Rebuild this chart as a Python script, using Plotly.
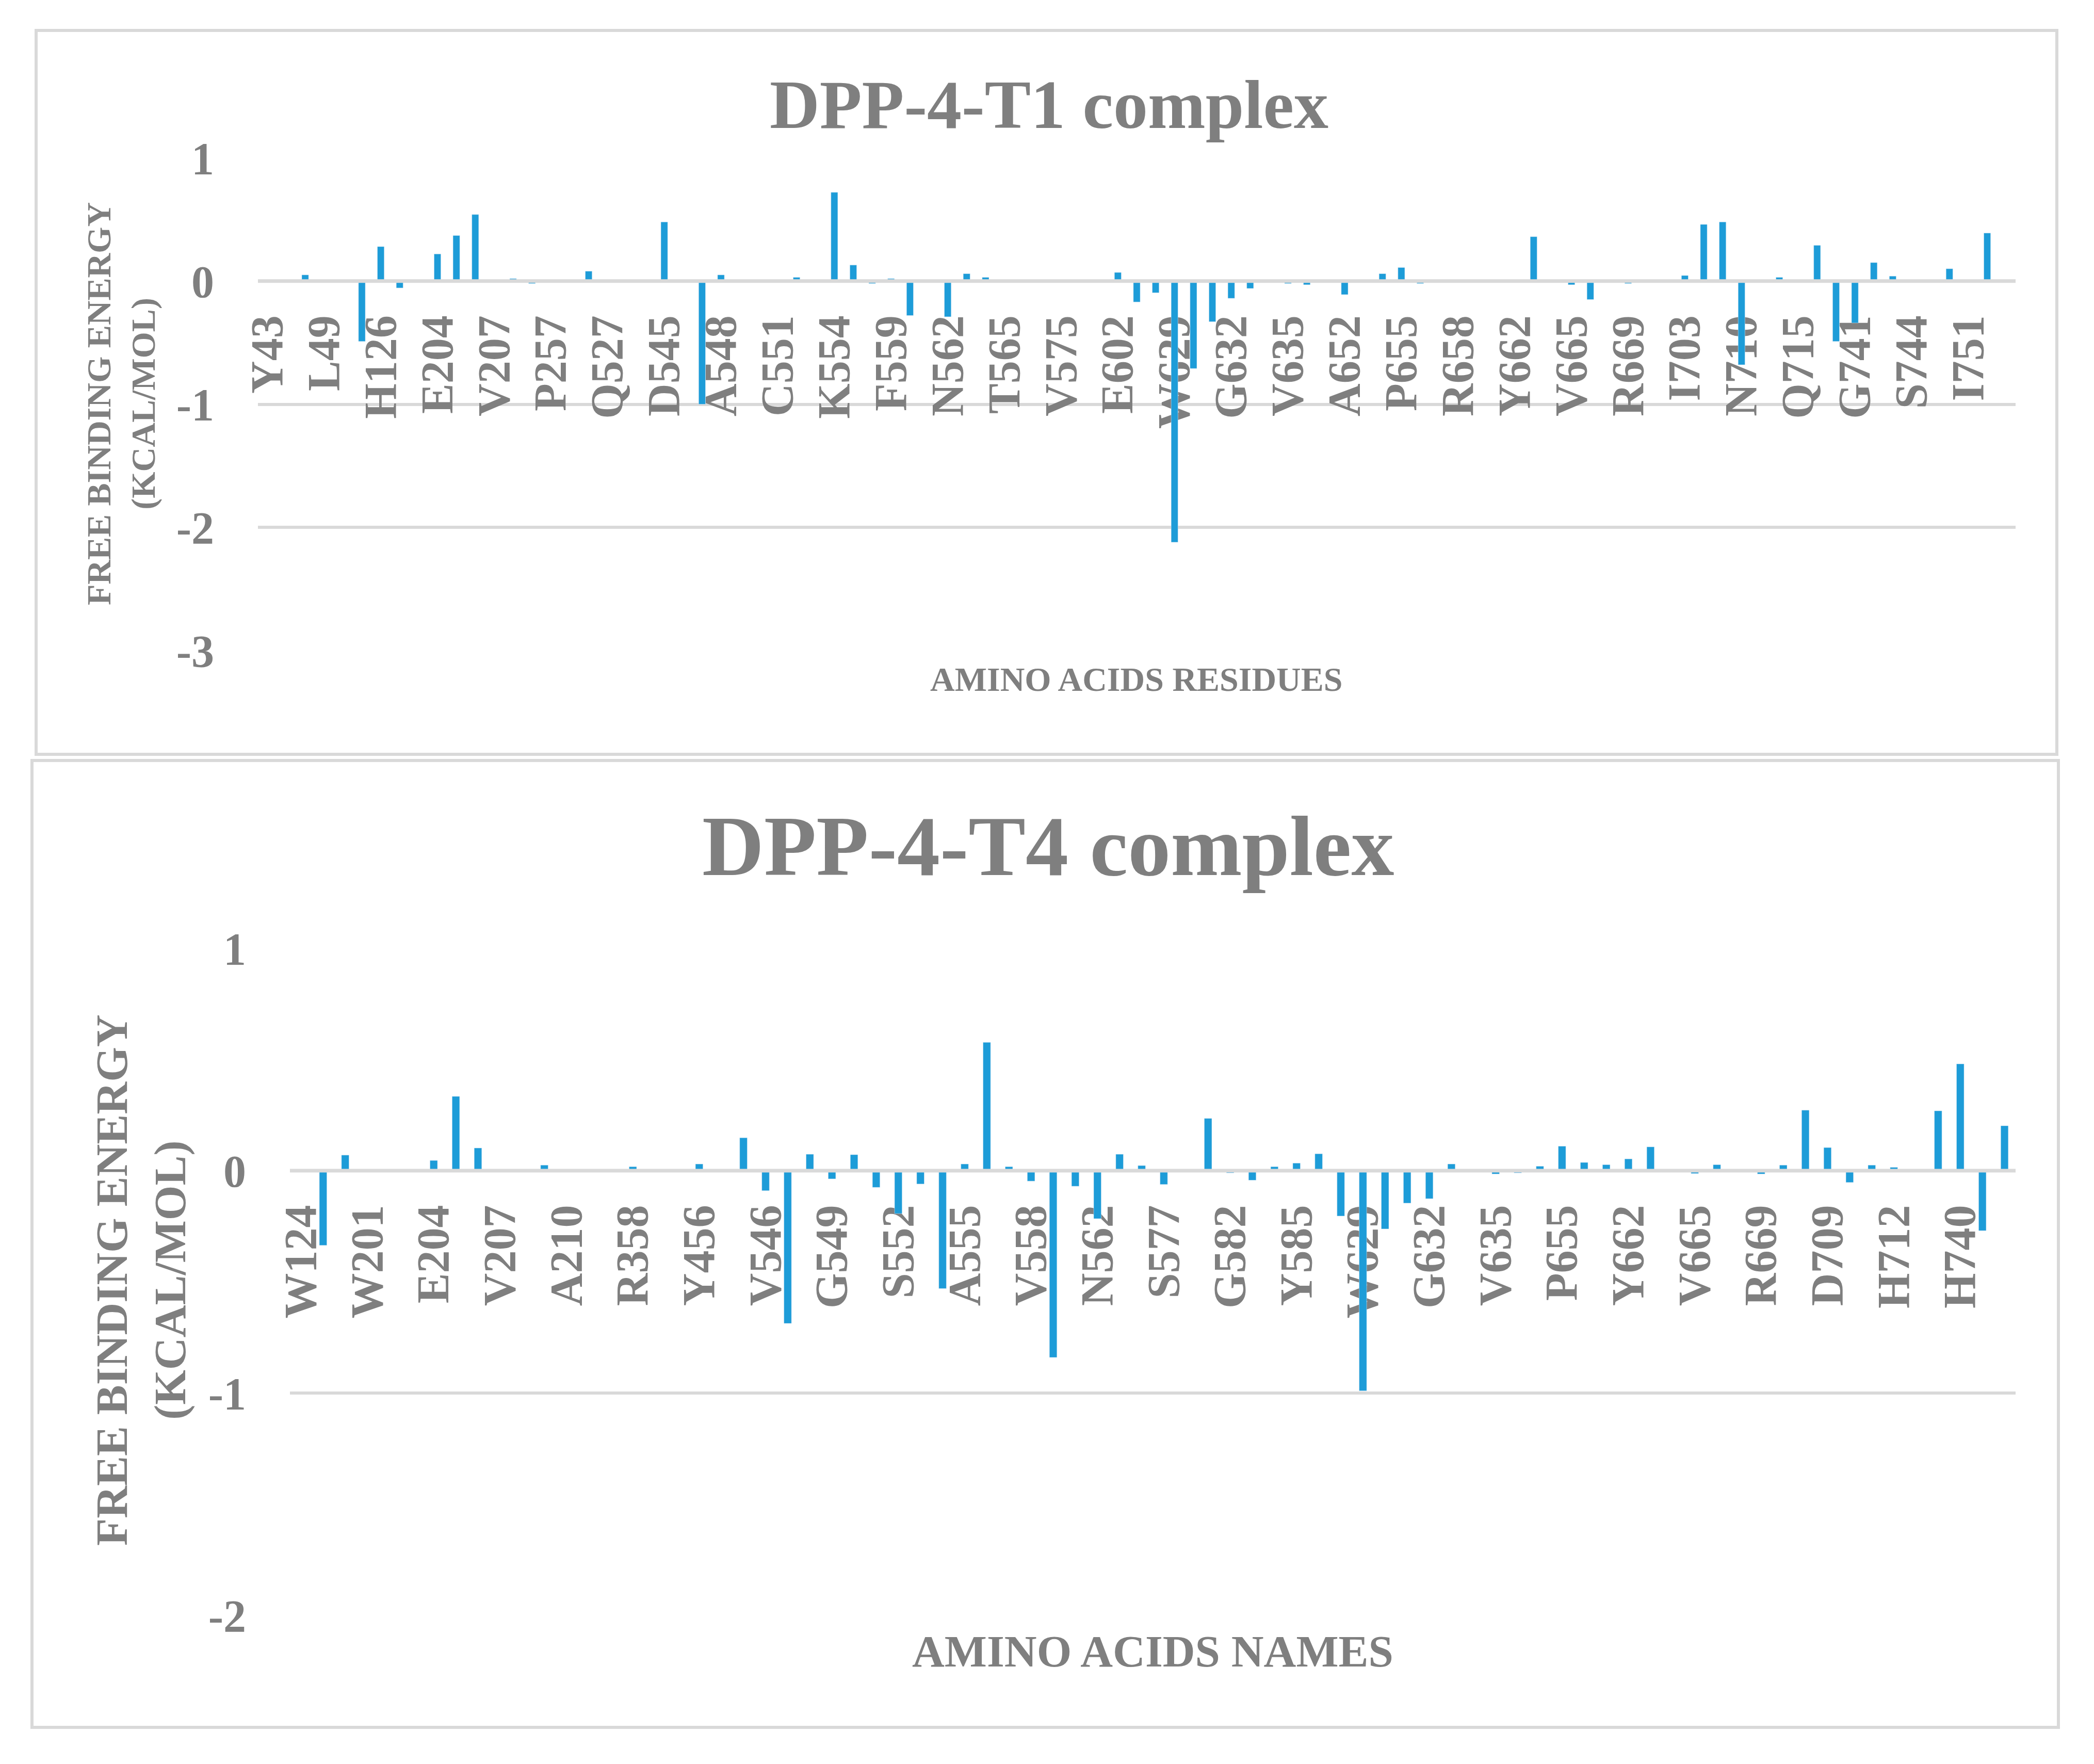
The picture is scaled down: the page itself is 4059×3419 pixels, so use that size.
import plotly.graph_objects as go

# ---------------- data ----------------
t1_labels = ["Y43", "L49", "H126", "E204", "V207", "P257", "Q527", "D545", "A548", "C551",
             "K554", "F559", "N562", "T565", "V575", "E602", "W629", "G632", "V635", "A652",
             "P655", "R658", "Y662", "V665", "R669", "I703", "N710", "Q715", "G741", "S744", "I751"]
t1_energy = [0, 0, 0.05, 0, 0, -0.49, 0.28, -0.056, 0, 0.22,
             0.37, 0.54, 0, 0.02, -0.02, 0, 0, 0.08, 0, 0,
             0, 0.48, 0, -1.0, 0.05, 0, 0, 0, 0.03, 0,
             0.72, 0.13, -0.02, 0.02, -0.28, 0, -0.29, 0.06, 0.03, 0,
             0, 0, 0, 0, 0, 0.07, -0.17, -0.095, -2.12, -0.71,
             -0.33, -0.14, -0.06, 0, -0.02, -0.03, 0, -0.11, 0, 0.06,
             0.11, -0.02, 0, 0, 0, 0, 0, 0.36, 0, -0.03,
             -0.15, 0, -0.02, 0, 0, 0.045, 0.46, 0.48, -0.68, 0,
             0.03, 0, 0.29, -0.49, -0.34, 0.15, 0.04, 0, 0, 0.10,
             0, 0.39, 0]

t4_labels = ["W124", "W201", "E204", "V207", "A210", "R358", "Y456", "V546", "G549", "S552",
             "A555", "V558", "N562", "S577", "G582", "Y585", "W629", "G632", "V635", "P655",
             "Y662", "V665", "R669", "D709", "H712", "H740"]
t4_energy = [0, -0.336, 0.07, 0, 0, 0, 0.046, 0.334, 0.102, 0,
             0, 0.025, 0, 0, 0, 0.018, 0, 0, 0.03, 0,
             0.148, -0.09, -0.687, 0.074, -0.037, 0.072, -0.075, -0.193, -0.06, -0.53,
             0.03, 0.577, 0.018, -0.047, -0.84, -0.07, -0.216, 0.074, 0.023, -0.062,
             0, 0.235, -0.01, -0.043, 0.018, 0.034, 0.076, -0.204, -0.99, -0.262,
             -0.146, -0.126, 0.03, 0, -0.015, -0.01, 0.02, 0.11, 0.037, 0.027,
             0.053, 0.107, 0, -0.013, 0.027, 0, -0.015, 0.025, 0.272, 0.104,
             -0.053, 0.025, 0.015, 0, 0.269, 0.48, -0.27, 0.202]

t1_yticks = [-3, -2, -1, 0, 1]
t4_yticks = [-2, -1, 0, 1]

# ---------------- style ----------------
W, H = 4059, 3419
OFF = 8  # page margin around the figure
BAR = "#1D9CD8"
GRID = "#D9D9D9"
TXT = "#7F7F7F"
FAM = "Liberation Serif, Times New Roman, serif"


def px_x(p):
    return (p - OFF) / W


def px_y(p):
    return 1 - (p - OFF) / H


def font(size):
    return dict(family=FAM, size=size, color=TXT, weight="bold")


# plot areas (page pixels)
top_dom_x = [px_x(500), px_x(3907)]
top_dom_y = [px_y(1261), px_y(306)]
bot_dom_x = [px_x(562), px_x(3907)]
bot_dom_y = [px_y(3131), px_y(1838)]

t1_range = [-3, 1]
t4_range = [-2, 1]


def zero_pos(dom, rng):
    return dom[0] + (0 - rng[0]) / (rng[1] - rng[0]) * (dom[1] - dom[0])


fig = go.Figure()
fig.add_trace(go.Bar(x=list(range(len(t1_energy))), y=t1_energy, marker_color=BAR,
                     width=0.36, xaxis="x", yaxis="y", showlegend=False))
fig.add_trace(go.Bar(x=list(range(len(t4_energy))), y=t4_energy, marker_color=BAR,
                     width=0.34, xaxis="x2", yaxis="y2", showlegend=False))


def xaxis_cfg(dom, n, labels, pos):
    return dict(domain=dom, range=[-0.5, n - 0.5], anchor="free", position=pos,
                tickmode="array", tickvals=list(range(0, n, 3))[:len(labels)], ticktext=labels,
                tickangle=-90, showgrid=False, zeroline=False, showline=False, ticks="",
                ticklabelstandoff=48, tickfont=font(88), automargin=False,
                layer="below traces")


def yaxis_cfg(dom, rng, ticks, anchor):
    return dict(domain=dom, range=rng, tickmode="array", tickvals=ticks,
                ticktext=[str(t) for t in ticks], showgrid=True, gridcolor=GRID,
                gridwidth=6, zeroline=False, showline=False, ticks="",
                ticklabelstandoff=84, tickfont=font(88), automargin=False, anchor=anchor)


fig.update_layout(
    width=W, height=H, margin=dict(l=0, r=0, t=0, b=0),
    paper_bgcolor="white", plot_bgcolor="white", bargap=0.6,
    xaxis=xaxis_cfg(top_dom_x, len(t1_energy), t1_labels, zero_pos(top_dom_y, t1_range)),
    yaxis=yaxis_cfg(top_dom_y, t1_range, t1_yticks, "x"),
    xaxis2=xaxis_cfg(bot_dom_x, len(t4_energy), t4_labels, zero_pos(bot_dom_y, t4_range)),
    yaxis2=yaxis_cfg(bot_dom_y, t4_range, t4_yticks, "x2"),
)

shapes = [
    # chart frames
    dict(type="rect", xref="paper", yref="paper", x0=px_x(70), x1=px_x(3987),
         y0=px_y(1462), y1=px_y(59), line=dict(color=GRID, width=6), layer="below"),
    dict(type="rect", xref="paper", yref="paper", x0=px_x(62), x1=px_x(3990),
         y0=px_y(3348), y1=px_y(1474), line=dict(color=GRID, width=6), layer="below"),
    # category axis lines at zero, drawn over the bars
    dict(type="line", xref="x domain", yref="y", x0=0, x1=1, y0=0, y1=0,
         line=dict(color=GRID, width=7), layer="above"),
    dict(type="line", xref="x2 domain", yref="y2", x0=0, x1=1, y0=0, y1=0,
         line=dict(color=GRID, width=7), layer="above"),
]
fig.update_layout(shapes=shapes)

annotations = [
    dict(text="DPP-4-T1 complex", x=px_x(2033), y=px_y(203), font=font(134)),
    dict(text="AMINO ACIDS RESIDUES", x=px_x(2203), y=px_y(1316), font=font(66)),
    dict(text="FREE BINDING ENERGY<br>(KCAL/MOL)", x=px_x(235), y=px_y(783),
         textangle=-90, font=font(66)),
    dict(text="DPP-4-T4 complex", x=px_x(2032), y=px_y(1640), font=font(166)),
    dict(text="AMINO ACIDS NAMES", x=px_x(2234), y=px_y(3200), font=font(87)),
    dict(text="FREE BINDING ENERGY<br>(KCAL/MOL)", x=px_x(273), y=px_y(2481),
         textangle=-90, font=font(87)),
]
for a in annotations:
    a.update(xref="paper", yref="paper", xanchor="center", yanchor="middle",
             showarrow=False)
fig.update_layout(annotations=annotations)

fig.write_html("out.html")
